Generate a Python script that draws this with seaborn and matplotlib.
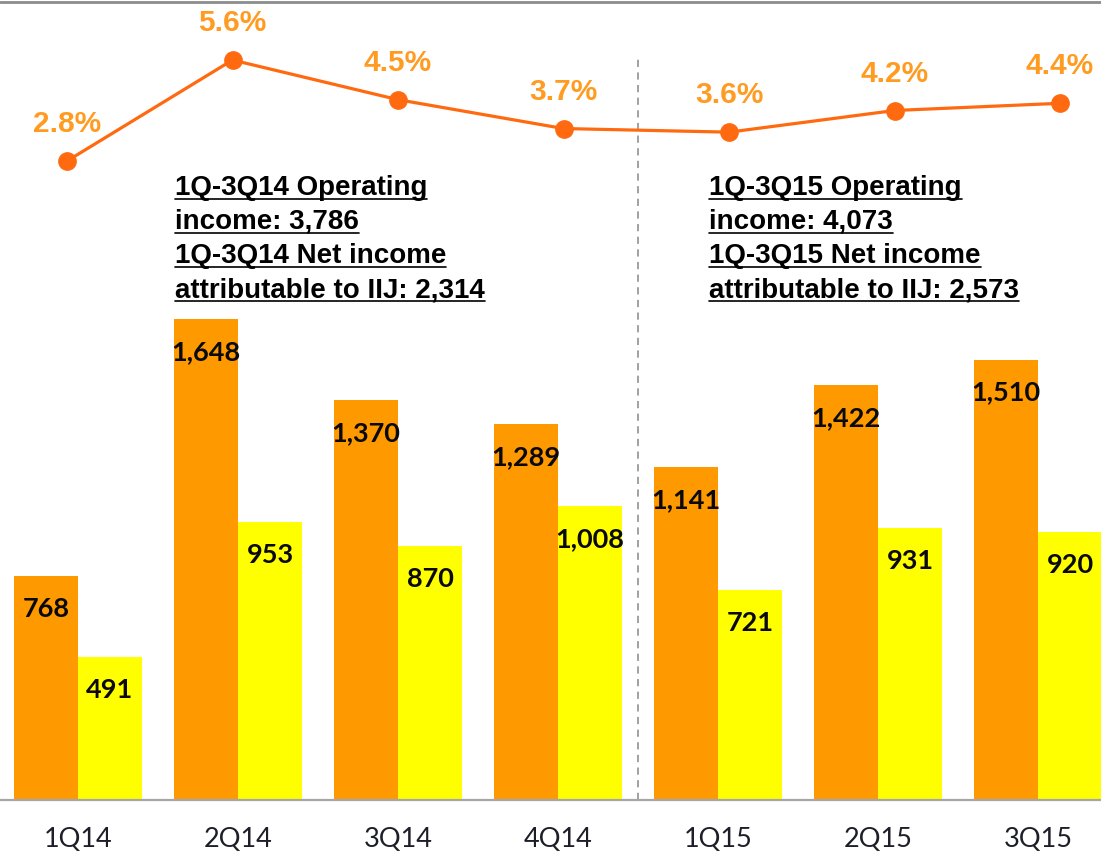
import numpy as np
import matplotlib
matplotlib.use("Agg")
import matplotlib.pyplot as plt
import seaborn as sns
import pandas as pd
from matplotlib.lines import Line2D

# values
quarters = ["1Q14", "2Q14", "3Q14", "4Q14", "1Q15", "2Q15", "3Q15"]
operating_income = [768, 1648, 1370, 1289, 1141, 1422, 1510]
net_income = [491, 953, 870, 1008, 721, 931, 920]
margin = [2.8, 5.6, 4.5, 3.7, 3.6, 4.2, 4.4]
series_names = ["Operating income", "Net income attributable to IIJ"]
notes_14 = ["1Q-3Q14 Operating", "income: 3,786", "1Q-3Q14 Net income",
            "attributable to IIJ: 2,314"]
notes_15 = ["1Q-3Q15 Operating", "income: 4,073", "1Q-3Q15 Net income",
            "attributable to IIJ: 2,573"]

df = pd.DataFrame({
    "quarter": quarters * 2,
    "series": [series_names[0]] * len(quarters) + [series_names[1]] * len(quarters),
    "value": operating_income + net_income,
})

sns.set_style("white")
W, H = 1101, 854
fig = plt.figure(figsize=(W / 100, H / 100), dpi=100)
fig.patch.set_facecolor("white")

base = 801  # pixel row of the baseline
ax = fig.add_axes([0, (H - base) / H, 1, base / H])
sns.barplot(data=df, x="quarter", y="value", hue="series",
            palette=["#FF9900", "#FFFF00"], saturation=1, width=0.8,
            linewidth=0, legend=False, ax=ax)
ax.set_xlim(-78 / 160, (W - 78) / 160)
ax.set_ylim(0, base / 0.2917)
ax.set_xlabel("")
ax.set_ylabel("")
ax.set_yticks([])
for s in ["top", "left", "right"]:
    ax.spines[s].set_visible(False)
ax.spines["bottom"].set_color("#A6A6A6")
ax.spines["bottom"].set_linewidth(1.6)
ax.tick_params(axis="x", length=0, pad=19)
ax.set_xticks(range(len(quarters)))
ax.set_xticklabels(quarters, fontsize=19.5, family="Lato", color="#1E1E2A")

# value labels inside the top of each bar
for cont in ax.containers:
    for bar in cont:
        v = bar.get_height()
        ax.annotate(f"{v:,.0f}", (bar.get_x() + bar.get_width() / 2, v),
                    xytext=(0, -32), textcoords="offset pixels",
                    ha="center", va="center", fontsize=19.5,
                    fontweight="bold", family="Lato", color="#0A0A0A")

# divider between years
ax.axvline(3.5, ymin=0, ymax=(base - 57) / base, color="#9A9A9A",
           lw=1.3, ls=(0, (4, 3)))

# margin line on its own overlay axes
ax2 = fig.add_axes([0, (H - base) / H, 1, base / H])
ax2.patch.set_alpha(0)
sns.lineplot(x=list(range(len(margin))), y=margin, ax=ax2, color="#FF6A10",
             lw=2.3, marker="o", markersize=13.5, markeredgewidth=0)
ax2.set_xlim(-67 / 165.5, (W - 67) / 165.5)
ax2.set_ylim(-538 / 36.07, (base - 538) / 36.07)
ax2.axis("off")
for i, m in enumerate(margin):
    ax2.annotate(f"{m}%", (i, m), xytext=(0, 38), textcoords="offset pixels",
                 ha="center", va="center", fontsize=21.5, fontweight="bold",
                 family="Liberation Sans", color="#FF9B21")

# underlined notes
texts = []
for x0, lines in [(175, notes_14), (709, notes_15)]:
    for k, line in enumerate(lines):
        yb = 195 + 34 * k
        t = fig.text(x0 / W, 1 - yb / H, line, fontsize=20, fontweight="bold",
                     family="Liberation Sans", va="baseline", ha="left",
                     color="black")
        texts.append((t, yb))

fig.canvas.draw()
r = fig.canvas.get_renderer()
for t, yb in texts:
    bb = t.get_window_extent(r)
    yy = 1 - (yb + 4.5) / H
    fig.add_artist(Line2D([bb.x0 / W, bb.x1 / W], [yy, yy], color="black",
                          lw=1.2, transform=fig.transFigure))

# frame line at the top edge
fig.add_artist(Line2D([0, 1], [1 - 3 / H, 1 - 3 / H], color="#8C8C8C",
                      lw=2, transform=fig.transFigure))

fig.savefig("out.png", dpi=100)
